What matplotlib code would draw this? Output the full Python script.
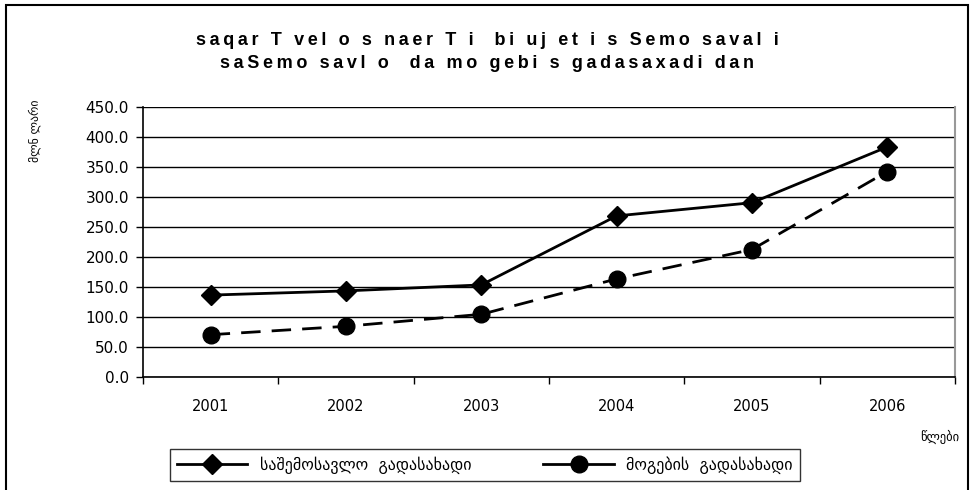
import matplotlib
matplotlib.use("Agg")
from matplotlib import pyplot as plt
from matplotlib.lines import Line2D
from matplotlib.patches import Rectangle
import numpy as np

# 数据
years = ["2001", "2002", "2003", "2004", "2005", "2006"]
income_tax = [136, 143, 153, 268, 290, 383]     # საშემოსავლო გადასახადი
profit_tax = [70, 84, 104, 163, 212, 342]       # მოგების გადასახადი
yticks = [0, 50, 100, 150, 200, 250, 300, 350, 400, 450]

title_lines = ["saqar T vel o s naer T i  bi uj et i s Semo saval i",
               "saSemo savl o  da mo gebi s gadasaxadi dan"]
ylabel = "მლნ ლარი"
xlabel = "წლები"
names = ["საშემოსავლო  გადასახადი", "მოგების  გადასახადი"]

plt.rcParams['font.family'] = ['Liberation Sans', 'DejaVu Sans']


def spaced(s):
    # 字间距: 每个字母之间插入窄空格
    return "\u2009".join(s)


fig = plt.figure(figsize=(9.77, 4.9), dpi=100)
ax = fig.add_axes([143/977, 1 - 376.7/490, (955 - 143)/977, 270/490])

x = np.arange(len(years))
ax.plot(x, income_tax, color='black', lw=2, marker='D', ms=10)
ax.plot(x, profit_tax, color='black', lw=2, ls=(0, (7, 4)), marker='o', ms=12, dash_capstyle='butt')

ax.set_xlim(-0.5, len(years) - 0.5)
ax.set_ylim(0, 450)
ax.set_yticks(yticks)
ax.set_yticklabels(["%.1f" % v for v in yticks], fontsize=11, family=['DejaVu Sans'])
ax.yaxis.grid(True, color='black', lw=1)
ax.set_axisbelow(True)

ax.set_xticks(x)
ax.set_xticklabels(years, fontsize=10.5, family=['DejaVu Sans'])
ax.set_xticks(np.arange(len(years) + 1) - 0.5, minor=True)
ax.tick_params(axis='x', which='major', length=0, pad=16)
ax.tick_params(axis='x', which='minor', length=5, width=1, direction='out')
ax.tick_params(axis='y', length=5, width=1, direction='out', pad=5)

ax.spines['top'].set_visible(False)
ax.spines['right'].set_color('#999999')
ax.spines['right'].set_linewidth(1.5)
for s in ['left', 'bottom']:
    ax.spines[s].set_linewidth(1.2)

# 标题与轴标签
fig.text(487/977, 1 - 52/490, "\n".join(spaced(t) for t in title_lines),
         ha='center', va='center', fontsize=13, fontweight='bold', linespacing=1.4)
fig.text(35/977, 1 - 131/490, ylabel, rotation=90, ha='center', va='center',
         fontsize=8.5, family=['DejaVu Sans'])
fig.text(940/977, 1 - 437/490, xlabel, ha='center', va='center', fontsize=9,
         family=['DejaVu Sans'])

# 图例
handles = [Line2D([], [], color='black', lw=2, marker='D', ms=10),
           Line2D([], [], color='black', lw=2, marker='o', ms=12)]
leg = fig.legend(handles, names, loc='center', bbox_to_anchor=(485/977, 1 - 465/490),
                 ncol=2, frameon=True, fancybox=False, handlelength=4.4,
                 columnspacing=4.5, borderpad=0.45, handletextpad=0.8,
                 prop={'family': ['DejaVu Sans'], 'size': 11.5})
leg.get_frame().set_edgecolor('black')
leg.get_frame().set_linewidth(1)

# 外框
fig.patches.append(Rectangle((6/977, -0.1), (968 - 6)/977, 1.1 - 5/490,
                             transform=fig.transFigure, fill=False, edgecolor='black', lw=1.5))

fig.savefig("out.png", dpi=100)
